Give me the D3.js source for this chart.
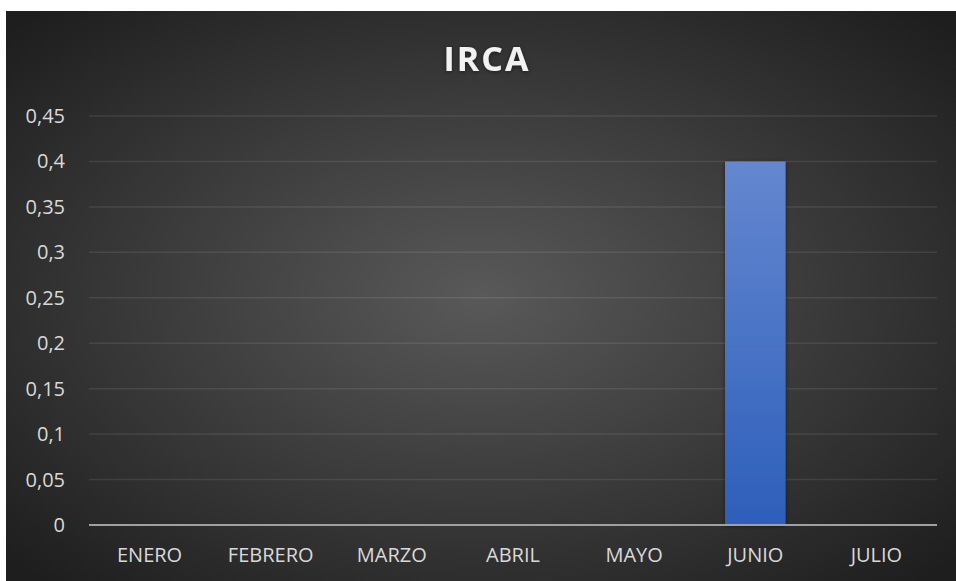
<!DOCTYPE html>
<html>
<head>
<meta charset="utf-8">
<script src="https://d3js.org/d3.v7.min.js"></script>
<style>
  body { margin: 0; background: #ffffff; }
  svg { display: block; }
</style>
</head>
<body>
<script>
// chart data
var months = ["ENERO", "FEBRERO", "MARZO", "ABRIL", "MAYO", "JUNIO", "JULIO"];
var irca = [0, 0, 0, 0, 0, 0.4, 0];
var yTicks = [0, 0.05, 0.1, 0.15, 0.2, 0.25, 0.3, 0.35, 0.4, 0.45];

var width = 956, height = 581;
var font = "'Open Sans', 'Liberation Sans', sans-serif";

var svg = d3.select("body").append("svg")
    .attr("width", width)
    .attr("height", height);

var defs = svg.append("defs");

var bg = defs.append("radialGradient")
    .attr("id", "bg")
    .attr("cx", "50%").attr("cy", "50%").attr("r", "68%");
bg.append("stop").attr("offset", "0%").attr("stop-color", "#595959");
bg.append("stop").attr("offset", "100%").attr("stop-color", "#1e1e1e");

var barGrad = defs.append("linearGradient")
    .attr("id", "barGrad")
    .attr("x1", 0).attr("y1", 0).attr("x2", 0).attr("y2", 1);
barGrad.append("stop").attr("offset", "0%").attr("stop-color", "#6587d0");
barGrad.append("stop").attr("offset", "100%").attr("stop-color", "#2d5fba");

var shadow = defs.append("filter").attr("id", "shadow")
    .attr("x", "-20%").attr("y", "-20%").attr("width", "140%").attr("height", "140%");
shadow.append("feDropShadow")
    .attr("dx", 0).attr("dy", 1).attr("stdDeviation", 2)
    .attr("flood-color", "#000").attr("flood-opacity", 0.5);

// background panel
svg.append("rect")
    .attr("x", 6).attr("y", 11)
    .attr("width", width - 6).attr("height", height - 11)
    .attr("fill", "url(#bg)");

// title
svg.append("text")
    .attr("x", 487).attr("y", 71)
    .attr("text-anchor", "middle")
    .attr("font-family", font)
    .attr("font-weight", "bold")
    .attr("font-size", 34)
    .attr("letter-spacing", 2)
    .attr("fill", "#f2f2f2")
    .attr("filter", "url(#shadow)")
    .text("IRCA");

var x = d3.scaleBand()
    .domain(months)
    .range([89, 937])
    .paddingInner(0.5)
    .paddingOuter(0.25);

var y = d3.scaleLinear()
    .domain([0, 0.45])
    .range([525, 116]);

var fmt = function(d) { return String(+d.toFixed(2)).replace(".", ","); };

// gridlines
svg.append("g").selectAll("line")
    .data(yTicks.filter(function(d) { return d > 0; }))
    .enter().append("line")
    .attr("x1", 89).attr("x2", 937)
    .attr("y1", function(d) { return y(d); })
    .attr("y2", function(d) { return y(d); })
    .attr("stroke", "#ffffff")
    .attr("stroke-opacity", 0.09)
    .attr("stroke-width", 1.5);

// y labels
svg.append("g").selectAll("text")
    .data(yTicks)
    .enter().append("text")
    .attr("x", 65)
    .attr("y", function(d) { return y(d); })
    .attr("dy", "0.35em")
    .attr("text-anchor", "end")
    .attr("font-family", font)
    .attr("font-size", 20)
    .attr("fill", "#d9d9d9")
    .text(fmt);

// bars
svg.append("g").selectAll("rect")
    .data(irca)
    .enter().append("rect")
    .attr("x", function(d, i) { return x(months[i]); })
    .attr("width", x.bandwidth())
    .attr("y", function(d) { return y(d); })
    .attr("height", function(d) { return y(0) - y(d); })
    .attr("fill", "url(#barGrad)")
    .attr("filter", "url(#shadow)");

// zero line
svg.append("line")
    .attr("x1", 89).attr("x2", 937)
    .attr("y1", y(0)).attr("y2", y(0))
    .attr("stroke", "#a0a0a0")
    .attr("stroke-width", 2);

// x labels
svg.append("g").selectAll("text")
    .data(months)
    .enter().append("text")
    .attr("x", function(d) { return x(d) + x.bandwidth() / 2; })
    .attr("y", 562)
    .attr("text-anchor", "middle")
    .attr("font-family", font)
    .attr("font-size", 20)
    .attr("fill", "#d9d9d9")
    .text(function(d) { return d; });
</script>
</body>
</html>
